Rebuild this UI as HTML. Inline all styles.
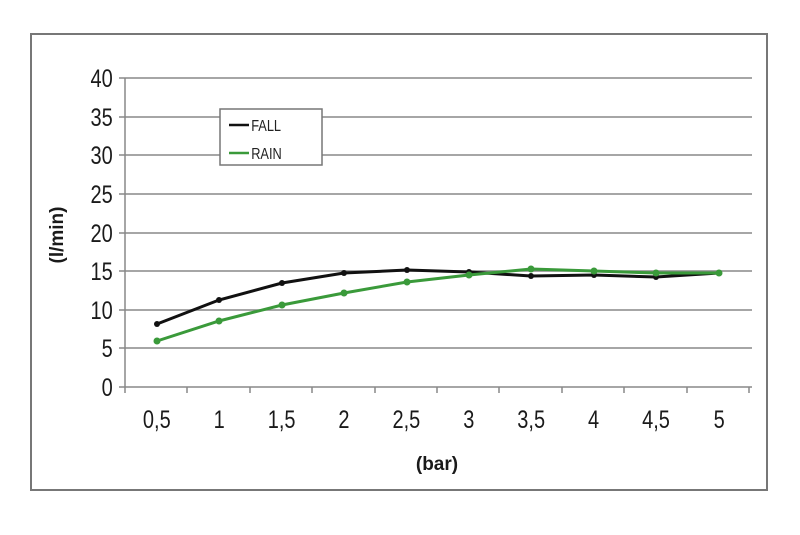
<!DOCTYPE html>
<html><head><style>body{margin:0;background:#fff}</style></head><body>
<svg width="800" height="530" xmlns="http://www.w3.org/2000/svg" font-family="Liberation Sans, sans-serif">
<rect x="0" y="0" width="800" height="530" fill="#fff"/>
<rect x="31" y="34" width="736" height="456" fill="#fff" stroke="#777" stroke-width="2"/>
<g stroke="#888" stroke-width="1.5">
<line x1="119" y1="78" x2="752" y2="78"/>
<line x1="119" y1="117" x2="752" y2="117"/>
<line x1="119" y1="155" x2="752" y2="155"/>
<line x1="119" y1="194" x2="752" y2="194"/>
<line x1="119" y1="233" x2="752" y2="233"/>
<line x1="119" y1="271" x2="752" y2="271"/>
<line x1="119" y1="310" x2="752" y2="310"/>
<line x1="119" y1="348" x2="752" y2="348"/>
<line x1="119" y1="387" x2="752" y2="387"/>
<line x1="125" y1="78" x2="125" y2="393"/>
</g>
<g stroke="#888" stroke-width="1.5">
<line x1="187" y1="387" x2="187" y2="393"/><line x1="250" y1="387" x2="250" y2="393"/><line x1="312" y1="387" x2="312" y2="393"/><line x1="375" y1="387" x2="375" y2="393"/><line x1="437" y1="387" x2="437" y2="393"/><line x1="499" y1="387" x2="499" y2="393"/><line x1="562" y1="387" x2="562" y2="393"/><line x1="624" y1="387" x2="624" y2="393"/><line x1="687" y1="387" x2="687" y2="393"/><line x1="749" y1="387" x2="749" y2="393"/>
</g>
<g font-size="25" fill="#1a1a1a" text-anchor="end" transform="scale(0.8,1)">
<text x="141" y="87">40</text><text x="141" y="126">35</text><text x="141" y="164">30</text><text x="141" y="203">25</text><text x="141" y="242">20</text><text x="141" y="280">15</text><text x="141" y="319">10</text><text x="141" y="357">5</text><text x="141" y="396">0</text>
</g>
<g font-size="25" fill="#1a1a1a" text-anchor="middle" transform="scale(0.8,1)">
<text x="196" y="428">0,5</text><text x="274" y="428">1</text><text x="352" y="428">1,5</text><text x="430" y="428">2</text><text x="508" y="428">2,5</text><text x="586" y="428">3</text><text x="664" y="428">3,5</text><text x="742" y="428">4</text><text x="820" y="428">4,5</text><text x="899" y="428">5</text>
</g>
<text x="437" y="470" font-size="19" font-weight="bold" fill="#1a1a1a" text-anchor="middle">(bar)</text>
<text transform="translate(63,235) rotate(-90)" font-size="19" font-weight="bold" fill="#1a1a1a" text-anchor="middle">(l/min)</text>
<polyline fill="none" stroke="#111" stroke-width="3" points="157,324 219,300 282,283 344,273 407,270 469,272 531,276 594,275 656,277 719,273"/>
<polyline fill="none" stroke="#3a9a3a" stroke-width="3" points="157,341 219,321 282,305 344,293 407,282 469,275 531,269 594,271 656,273 719,273"/>
<g fill="#111"><circle cx="157" cy="324" r="3"/><circle cx="219" cy="300" r="3"/><circle cx="282" cy="283" r="3"/><circle cx="344" cy="273" r="3"/><circle cx="407" cy="270" r="3"/><circle cx="469" cy="272" r="3"/><circle cx="531" cy="276" r="3"/><circle cx="594" cy="275" r="3"/><circle cx="656" cy="277" r="3"/><circle cx="719" cy="273" r="3"/></g>
<g fill="#3a9a3a"><circle cx="157" cy="341" r="3.5"/><circle cx="219" cy="321" r="3.5"/><circle cx="282" cy="305" r="3.5"/><circle cx="344" cy="293" r="3.5"/><circle cx="407" cy="282" r="3.5"/><circle cx="469" cy="275" r="3.5"/><circle cx="531" cy="269" r="3.5"/><circle cx="594" cy="271" r="3.5"/><circle cx="656" cy="273" r="3.5"/><circle cx="719" cy="273" r="3.5"/></g>
<rect x="220" y="109" width="102" height="56" fill="#fff" stroke="#777" stroke-width="1.5"/>
<line x1="229" y1="125" x2="249" y2="125" stroke="#111" stroke-width="2.5"/>
<line x1="229" y1="153" x2="249" y2="153" stroke="#3a9a3a" stroke-width="2.5"/>
<g font-size="16" fill="#222" transform="scale(0.8,1)"><text x="314" y="131">FALL</text><text x="314" y="159">RAIN</text></g>
</svg>
</body></html>
